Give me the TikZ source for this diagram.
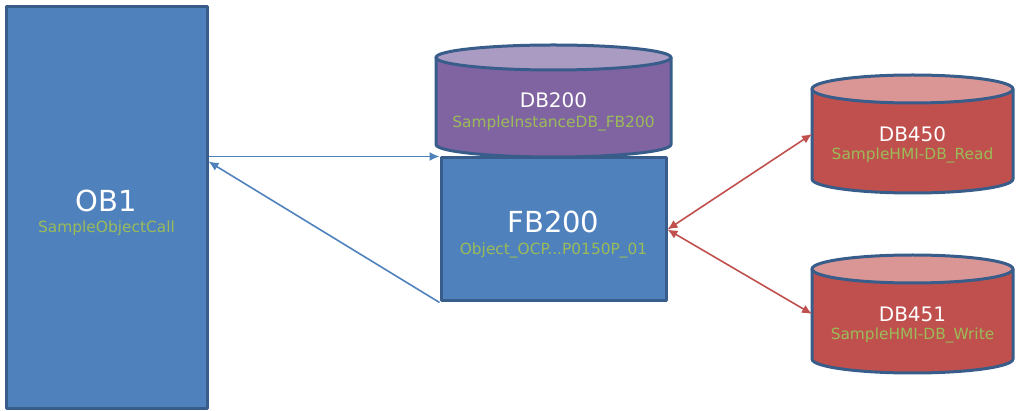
\documentclass[tikz,border=0pt]{standalone}
\usepackage{fontspec}
\setmainfont{DejaVu Sans}
\usetikzlibrary{arrows.meta}
\definecolor{boxblue}{HTML}{4F81BD}
\definecolor{edgeblue}{HTML}{385D8A}
\definecolor{dbpurple}{HTML}{8064A2}
\definecolor{dbpurpletop}{HTML}{A99BC2}
\definecolor{dbred}{HTML}{C0504D}
\definecolor{dbredtop}{HTML}{D99694}
\definecolor{namegreen}{HTML}{9BBB59}
\def\px{0.5pt}
\tikzset{
 block/.style={draw=edgeblue, fill=boxblue, line width=1.5pt, inner sep=0pt},
 dbbody/.style={inner sep=0pt, outer sep=0pt},
 dbshape/.style={draw=edgeblue, line width=1.5pt},
 title/.style={text=white, font=\fontsize{14.5}{17}\selectfont, inner sep=0pt, anchor=base},
 dbtitle/.style={title, font=\fontsize{10}{12}\selectfont},
 subtitle/.style={text=namegreen, font=\fontsize{7.7}{9}\selectfont, inner sep=0pt, anchor=base},
 call/.style={draw=boxblue, line width=0.8pt, -{Latex[length=5pt,width=4.5pt]}},
 access/.style={draw=dbred, line width=0.8pt, {Latex[length=5pt,width=4.5pt]}-{Latex[length=5pt,width=4.5pt]}}
}
\begin{document}
\begin{tikzpicture}[x=\px, y=-\px, line join=round]
 \useasboundingbox (0,0) rectangle (1019,411);
 % blocks
 \node[block, minimum width=201*\px, minimum height=402*\px] (ob1) at (106.5,208) {};
 \node[block, minimum width=225*\px, minimum height=143*\px] (fb200) at (553.5,229.5) {};
 % data blocks
 \foreach \n/\cx/\cy/\w/\h/\r/\body/\top in {db200/553.5/101/235/87/12.5/dbpurple/dbpurpletop,
   db450/912.5/134/201/90/14/dbred/dbredtop, db451/912.5/314/201/90/14/dbred/dbredtop}{
  \node[dbbody, minimum width=\w*\px, minimum height=\h*\px] (\n) at (\cx,\cy) {};
  \draw[dbshape, fill=\body] (\n.north west) -- (\n.south west)
    arc[start angle=180, end angle=0, x radius=\w/2, y radius=\r] -- (\n.north east) -- cycle;
  \draw[dbshape, fill=\top] (\n.north) ellipse [x radius=\w/2, y radius=\r];
 }
 % texts
 \node[title] (ob1t) at (106.5,211.5) {OB1};
 \node[subtitle] (ob1s) at (106.5,233) {SampleObjectCall};
 \node[title] (fb200t) at (553.5,232.5) {FB200};
 \node[subtitle] (fb200s) at (553.5,254.5) {Object\_OCP...P0150P\_01};
 \node[dbtitle] (db200t) at (553.5,108) {DB200};
 \node[subtitle] (db200s) at (553.5,128) {SampleInstanceDB\_FB200};
 \node[dbtitle] (db450t) at (912.5,141.5) {DB450};
 \node[subtitle] (db450s) at (912.5,160) {SampleHMI-DB\_Read};
 \node[dbtitle] (db451t) at (912.5,321.5) {DB451};
 \node[subtitle] (db451s) at (912.5,340) {SampleHMI-DB\_Write};
 % connectors
 \draw[call] (ob1.east |- fb200.north west) -- (fb200.north west);
 \draw[call] (fb200.south west) -- ([yshift=-78pt]ob1.north east);
 \draw[access] (fb200.east) -- (db450.west);
 \draw[access] (fb200.east) -- (db451.west);
\end{tikzpicture}
\end{document}
